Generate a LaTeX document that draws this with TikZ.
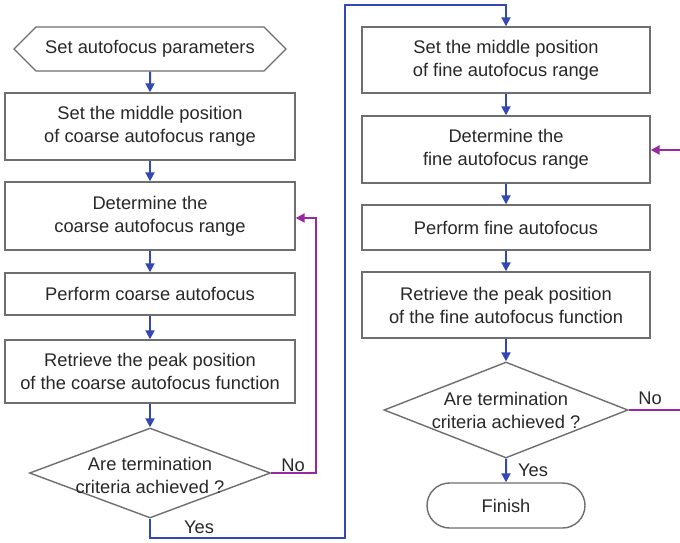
\documentclass[tikz,border=0pt]{standalone}
\usepackage{fontspec}
\setmainfont{Liberation Sans}
\usetikzlibrary{arrows.meta,shapes.geometric,shapes.symbols,shapes.misc}
\definecolor{boxgray}{RGB}{110,110,110}
\definecolor{txtgray}{RGB}{40,40,40}
\definecolor{flowblue}{RGB}{52,72,180}
\definecolor{loopviolet}{RGB}{150,40,160}
\tikzset{
  box/.style={draw=boxgray, line width=1.4pt, rectangle, minimum width=290pt, inner sep=0pt, align=center, text=txtgray},
  dec/.style={draw=boxgray, line width=1.4pt, diamond, inner sep=0pt},
  dectext/.style={align=center, text=txtgray, inner sep=0pt},
  lbl/.style={text=txtgray, inner sep=0pt},
  flow/.style={draw=flowblue, line width=2pt, -{Triangle[length=9pt,width=9pt]}},
  loopline/.style={draw=loopviolet, line width=2pt},
}
\begin{document}
\begin{tikzpicture}[x=1pt,y=-1pt,font=\fontsize{18.3}{23}\selectfont]
\useasboundingbox[fill=white] (0,0) rectangle (680,543);
% left column
\node[draw=boxgray, line width=1.4pt, signal, signal to=west and east, signal pointer angle=90,
      minimum width=272pt, minimum height=44pt, inner sep=0pt, text=txtgray] (start) at (150,49) {Set autofocus parameters};
\node[box, minimum height=67pt] (b1) at (150,126.5) {Set the middle position\\of coarse autofocus range};
\node[box, minimum height=68pt] (b2) at (150,216) {Determine the\\coarse autofocus range};
\node[box, minimum height=42pt] (b3) at (150,294) {Perform coarse autofocus};
\node[box, minimum height=63pt] (b4) at (150,371.5) {Retrieve the peak position\\of the coarse autofocus function};
\node[dec, minimum width=241pt, minimum height=90pt] (d1) at (150,473) {};
\node[dectext] (d1t) at (150,475) {Are termination\\criteria achieved ?};
% right column
\node[box, minimum width=288pt, minimum height=66pt] (r1) at (506,60) {Set the middle position\\of fine autofocus range};
\node[box, minimum width=288pt, minimum height=67pt] (r2) at (506,149.5) {Determine the\\fine autofocus range};
\node[box, minimum width=288pt, minimum height=45pt] (r3) at (506,227.5) {Perform fine autofocus};
\node[box, minimum width=288pt, minimum height=66pt] (r4) at (506,305) {Retrieve the peak position\\of the fine autofocus function};
\node[dec, minimum width=244pt, minimum height=96pt] (d2) at (506,410) {};
\node[dectext] (d2t) at (506,410) {Are termination\\criteria achieved ?};
\node[draw=boxgray, line width=1.4pt, rounded rectangle, minimum width=158pt, minimum height=45pt, inner sep=0pt, text=txtgray] (fin) at (506,505.5) {Finish};
% labels
\node[lbl] (no1) at (293,465) {No};
\node[lbl] (yes1) at (199,527) {Yes};
\node[lbl] (no2) at (650,398) {No};
\node[lbl] (yes2) at (533,470) {Yes};
% coordinates
\coordinate (nl1) at (316,473);
\coordinate (nl2) at (316,218);
\coordinate (y1) at (150,538);
\coordinate (y2) at (345,538);
\coordinate (y3) at (345,5);
\coordinate (y4) at (506,5);
\coordinate (nr1) at (692,410);
\coordinate (nr2) at (692,150);
% connectors
\draw[flow] (start) -- (b1);
\draw[flow] (b1) -- (b2);
\draw[flow] (b2) -- (b3);
\draw[flow] (b3) -- (b4);
\draw[flow] (b4) -- (d1);
\draw[loopline, -{Triangle[length=9pt,width=9pt]}] (d1.east) -- (nl1) -- (nl2) -- (nl2 -| b2.east);
\draw[flow] (d1.south) -- (y1) -- (y2) -- (y3) -- (y4) -- (r1.north);
\draw[flow] (r1) -- (r2);
\draw[flow] (r2) -- (r3);
\draw[flow] (r3) -- (r4);
\draw[flow] (r4) -- (d2);
\draw[flow] (d2) -- (fin);
\draw[loopline, -{Triangle[length=9pt,width=9pt]}] (d2.east) -- (nr1) -- (nr2) -- (nr2 -| r2.east);
\end{tikzpicture}
\end{document}
